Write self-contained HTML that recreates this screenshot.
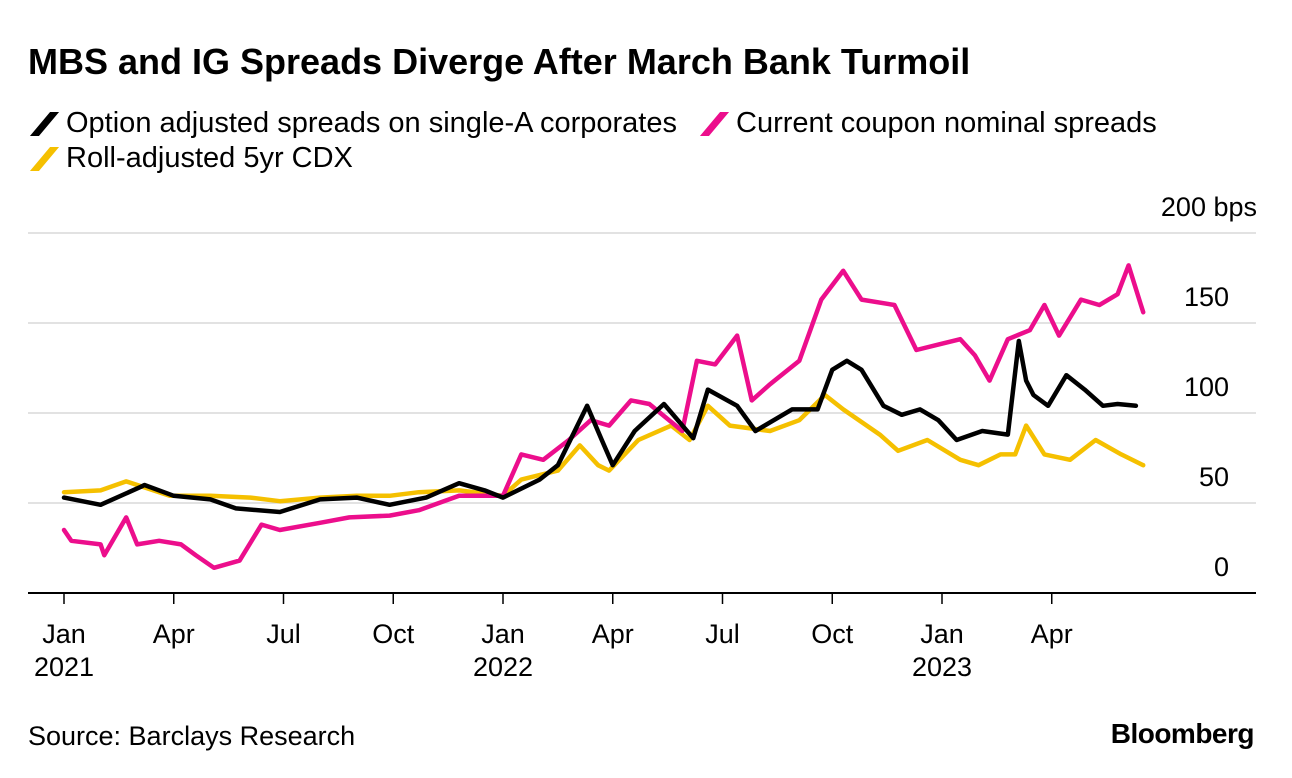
<!DOCTYPE html>
<html><head><meta charset="utf-8">
<style>
body{margin:0;background:#fff;font-family:"Liberation Sans",sans-serif;}
#wrap{position:relative;width:1292px;height:778px;overflow:hidden;}
.t{position:absolute;white-space:nowrap;color:#000;}
.sw{position:absolute;width:9px;height:24px;transform:skewX(-40deg);}
</style></head>
<body>
<div id="wrap">
<div class="t" style="left:28px;top:41px;font-size:36px;font-weight:bold;letter-spacing:0px">MBS and IG Spreads Diverge After March Bank Turmoil</div>
<div class="t" style="left:28px;top:107px;font-size:29px;height:34px;width:660px"><span class="sw" style="left:12px;top:5px;background:#000"></span><span style="position:absolute;left:38px;top:0">Option adjusted spreads on single-A corporates</span></div>
<div class="t" style="left:698px;top:107px;font-size:29px;height:34px;width:470px"><span class="sw" style="left:12px;top:5px;background:#ec0e8c"></span><span style="position:absolute;left:38px;top:0">Current coupon nominal spreads</span></div>
<div class="t" style="left:28px;top:142px;font-size:29px;height:34px;width:340px"><span class="sw" style="left:12px;top:5px;background:#f5c000"></span><span style="position:absolute;left:38px;top:0">Roll-adjusted 5yr CDX</span></div>
<svg id="chart" width="1292" height="778" style="position:absolute;left:0;top:0"></svg>
<div class="t" style="left:28px;top:721px;font-size:27px">Source: Barclays Research</div>
<div class="t" style="right:38px;top:718px;font-size:28px;font-weight:bold;letter-spacing:-0.5px">Bloomberg</div>
</div>
<script>
// months since Jan 2021
const blackM=[0,1,2.1,2.2,3,4,4.7,5.9,7,8,8.9,9.9,10.8,11.5,12,13,13.5,14.3,14.7,15,15.6,16.4,17.2,17.6,18.4,18.9,19.9,20.6,21,21.4,21.8,22.4,22.9,23.4,23.9,24.4,25.1,25.8,26.1,26.3,26.5,26.9,27.4,27.9,28.4,28.8,29.3];
const blackV=[53,49,59,60,54,52,47,45,52,53,49,53,61,57,53,63,71,104,85,71,90,105,86,113,104,90,102,102,124,129,124,104,99,102,96,85,90,88,140,118,110,104,121,113,104,105,104];
const pinkM=[0,0.2,1,1.1,1.7,2,2.6,3.2,3.6,4.1,4.8,5.4,5.9,7,7.8,8.9,9.7,10.8,12,12.5,13.1,13.8,14.4,14.9,15.5,16,16.9,17.3,17.8,18.4,18.8,19.3,20.1,20.7,21.3,21.8,22.7,23.3,23.9,24.5,24.9,25.3,25.8,26.4,26.8,27.2,27.8,28.3,28.8,29.1,29.5];
const pinkV=[35,29,27,21,42,27,29,27,21,14,18,38,35,39,42,43,46,54,54,77,74,85,96,93,107,105,90,129,127,143,107,116,129,163,179,163,160,135,138,141,132,118,141,146,160,143,163,160,166,182,156];
const yellowM=[0,1,1.7,2.9,4,5.1,5.9,7,8,8.9,9.7,10.8,12,12.5,13.5,14.1,14.6,14.9,15.7,16.6,17.1,17.6,18.2,19.3,20.1,20.8,21.3,22.3,22.8,23.6,24.5,25,25.6,26,26.3,26.8,27.5,28.2,28.9,29.5];
const yellowV=[56,57,62,54,54,53,51,53,54,54,56,57,54,63,68,82,71,68,85,93,85,104,93,90,96,110,102,88,79,85,74,71,77,77,93,77,74,85,77,71];
const yTicks=[0,50,100,150,200];
const xTickM=[0,3,6,9,12,15,18,21,24,27];
const xTickLabels=["Jan","Apr","Jul","Oct","Jan","Apr","Jul","Oct","Jan","Apr"];
const yearLabels=[{m:0,t:"2021"},{m:12,t:"2022"},{m:24,t:"2023"}];

const NS="http://www.w3.org/2000/svg";
const svg=document.getElementById('chart');
const x=m=>64+m*(878/24);
const y=v=>593-v*1.8;
function mk(tag,attrs){const e=document.createElementNS(NS,tag);for(const k in attrs)e.setAttribute(k,attrs[k]);svg.appendChild(e);return e;}
yTicks.forEach(v=>{
  if(v>0){const g=mk('line',{x1:28,x2:1256,y1:y(v),y2:y(v),stroke:'#d9d9d9','stroke-width':1.5});
  
  }
  const t=mk('text',{x:v===200?1257:1229,y:y(v)-17,'text-anchor':'end','font-size':27,'font-family':'Liberation Sans, sans-serif'});
  t.textContent=v===200?'200 bps':String(v);
  
  
});
const ax=mk('line',{x1:28,x2:1256,y1:593,y2:593,stroke:'#000','stroke-width':2});


xTickM.forEach((m,i)=>{
  const tk=mk('line',{x1:x(m),x2:x(m),y1:593,y2:604,stroke:'#000','stroke-width':1.5});
  
  
  const t=mk('text',{x:x(m),y:643,'text-anchor':'middle','font-size':27,'font-family':'Liberation Sans, sans-serif'});
  t.textContent=xTickLabels[i];
  
  
});
yearLabels.forEach(o=>{
  const t=mk('text',{x:x(o.m),y:676,'text-anchor':'middle','font-size':27,'font-family':'Liberation Sans, sans-serif'});
  t.textContent=o.t;
  
  
});
function line(ms,vs,color,name){
  const p=mk('polyline',{points:ms.map((m,i)=>x(m)+','+y(vs[i])).join(' '),fill:'none',stroke:color,'stroke-width':4.5,'stroke-linejoin':'round','stroke-linecap':'round'});
  
  
}
line(yellowM,yellowV,'#f5c000','series-cdx');
line(pinkM,pinkV,'#ec0e8c','series-current-coupon');
line(blackM,blackV,'#000','series-corporates');
</script>
</body></html>
